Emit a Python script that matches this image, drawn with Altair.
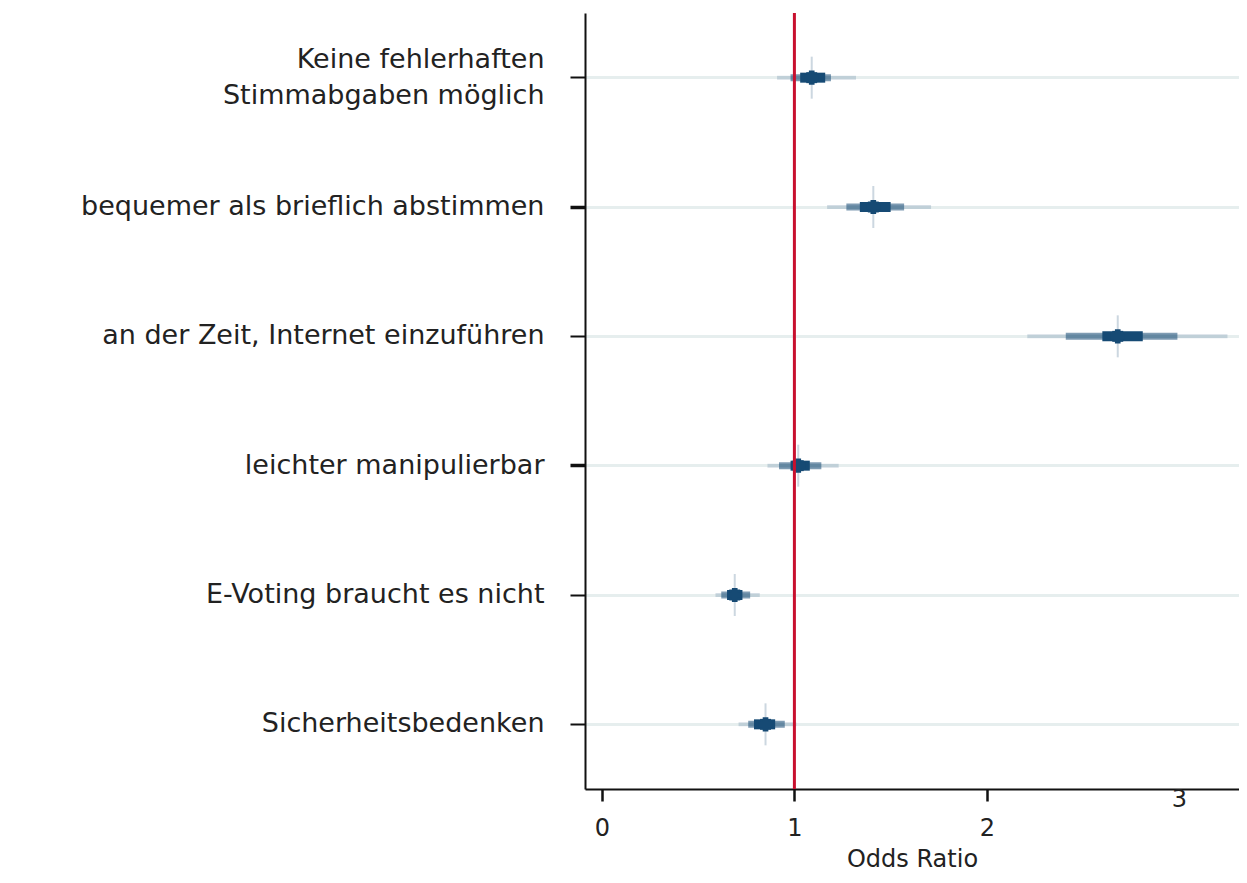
import altair as alt
import pandas as pd

categories = [
    "Keine fehlerhaften |Stimmabgaben möglich",
    "bequemer als brieflich abstimmen",
    "an der Zeit, Internet einzuführen",
    "leichter manipulierbar",
    "E-Voting braucht es nicht",
    "Sicherheitsbedenken",
]
odds_ratio = [1.09, 1.41, 2.68, 1.02, 0.69, 0.85]
outer_lo = [0.91, 1.17, 2.21, 0.86, 0.59, 0.71]
outer_hi = [1.32, 1.71, 3.25, 1.23, 0.82, 1.01]
mid_lo = [0.98, 1.27, 2.41, 0.92, 0.62, 0.76]
mid_hi = [1.19, 1.57, 2.99, 1.14, 0.77, 0.95]
core_lo = [1.03, 1.34, 2.60, 0.98, 0.65, 0.79]
core_hi = [1.16, 1.50, 2.81, 1.08, 0.73, 0.90]
x_ticks = [0, 1, 2]
reference_value = 1

df = pd.DataFrame({
    "cat": categories, "or": odds_ratio,
    "olo": outer_lo, "ohi": outer_hi,
    "mlo": mid_lo, "mhi": mid_hi,
    "clo": core_lo, "chi": core_hi,
})

NAVY = "#164a74"
FONT = "DejaVu Sans"
TXT = "#222222"

xs = alt.Scale(domain=[-0.088, 3.31], nice=False, zero=False)
ys = alt.Scale(domain=categories)

first = categories[0]
thick = [categories[1], categories[3]]

y_enc = alt.Y(
    "cat:N", scale=ys, title=None,
    axis=alt.Axis(
        labelExpr="split(datum.label, '|')",
        labelFont=FONT, labelFontSize=27, labelColor=TXT,
        labelLineHeight=36, labelPadding=26, labelLimit=700,
        labelOffset={"condition": {"test": f"datum.value == '{first}'", "value": -18}, "value": 0},
        tickSize=15, tickColor="#111111",
        tickWidth={"condition": {"test": f"indexof({thick}, datum.value) >= 0", "value": 3.5}, "value": 2},
        domainColor="#111111", domainWidth=2,
        grid=True, gridColor="#e6eeee", gridWidth=3,
    ),
)
x_axis = alt.Axis(
    values=x_ticks, format="d", title="Odds Ratio", grid=False,
    labelFont=FONT, labelFontSize=24, labelColor=TXT, labelPadding=15,
    titleFont=FONT, titleFontSize=24, titleFontWeight="normal", titleColor=TXT,
    titlePadding=7,
    tickSize=12, tickWidth=2.5, tickColor="#111111",
    domainColor="#111111", domainWidth=2,
)

base = alt.Chart(df)

outer = base.mark_rule(color=NAVY, strokeWidth=4, opacity=0.18).encode(
    x=alt.X("olo:Q", scale=xs, axis=x_axis), x2="ohi:Q", y=y_enc)
mid = base.mark_rule(color=NAVY, strokeWidth=7, opacity=0.55).encode(
    x=alt.X("mlo:Q", scale=xs), x2="mhi:Q", y=alt.Y("cat:N", scale=ys))
core = base.mark_rule(color=NAVY, strokeWidth=10, opacity=1).encode(
    x=alt.X("clo:Q", scale=xs), x2="chi:Q", y=alt.Y("cat:N", scale=ys))
vtick = base.mark_tick(color=NAVY, size=42, thickness=2, opacity=0.22).encode(
    x=alt.X("or:Q", scale=xs), y=alt.Y("cat:N", scale=ys))
sq = base.mark_point(shape="square", filled=True, color=NAVY, size=120, opacity=1).encode(
    x=alt.X("or:Q", scale=xs), y=alt.Y("cat:N", scale=ys))
cross = base.mark_point(shape="cross", filled=True, color=NAVY, size=200, opacity=1).encode(
    x=alt.X("or:Q", scale=xs), y=alt.Y("cat:N", scale=ys))

ref = alt.Chart(pd.DataFrame({"v": [reference_value]})).mark_rule(
    color="#c8102e", strokeWidth=3).encode(x=alt.X("v:Q", scale=xs))

three = alt.Chart(pd.DataFrame({"v": [3], "t": ["3"]})).mark_text(
    font=FONT, fontSize=24, color=TXT, baseline="middle").encode(
    x=alt.X("v:Q", scale=xs), y=alt.value(787), text="t:N")

chart = alt.layer(outer, mid, core, vtick, sq, cross, ref, three).properties(
    width=654, height=776,
    autosize=alt.AutoSizeParams(type="none"),
    padding={"left": 577, "top": 5, "right": 0, "bottom": 86},
).configure_view(stroke=None)

chart.save("out.html", embed_options={"renderer": "svg", "actions": False})
